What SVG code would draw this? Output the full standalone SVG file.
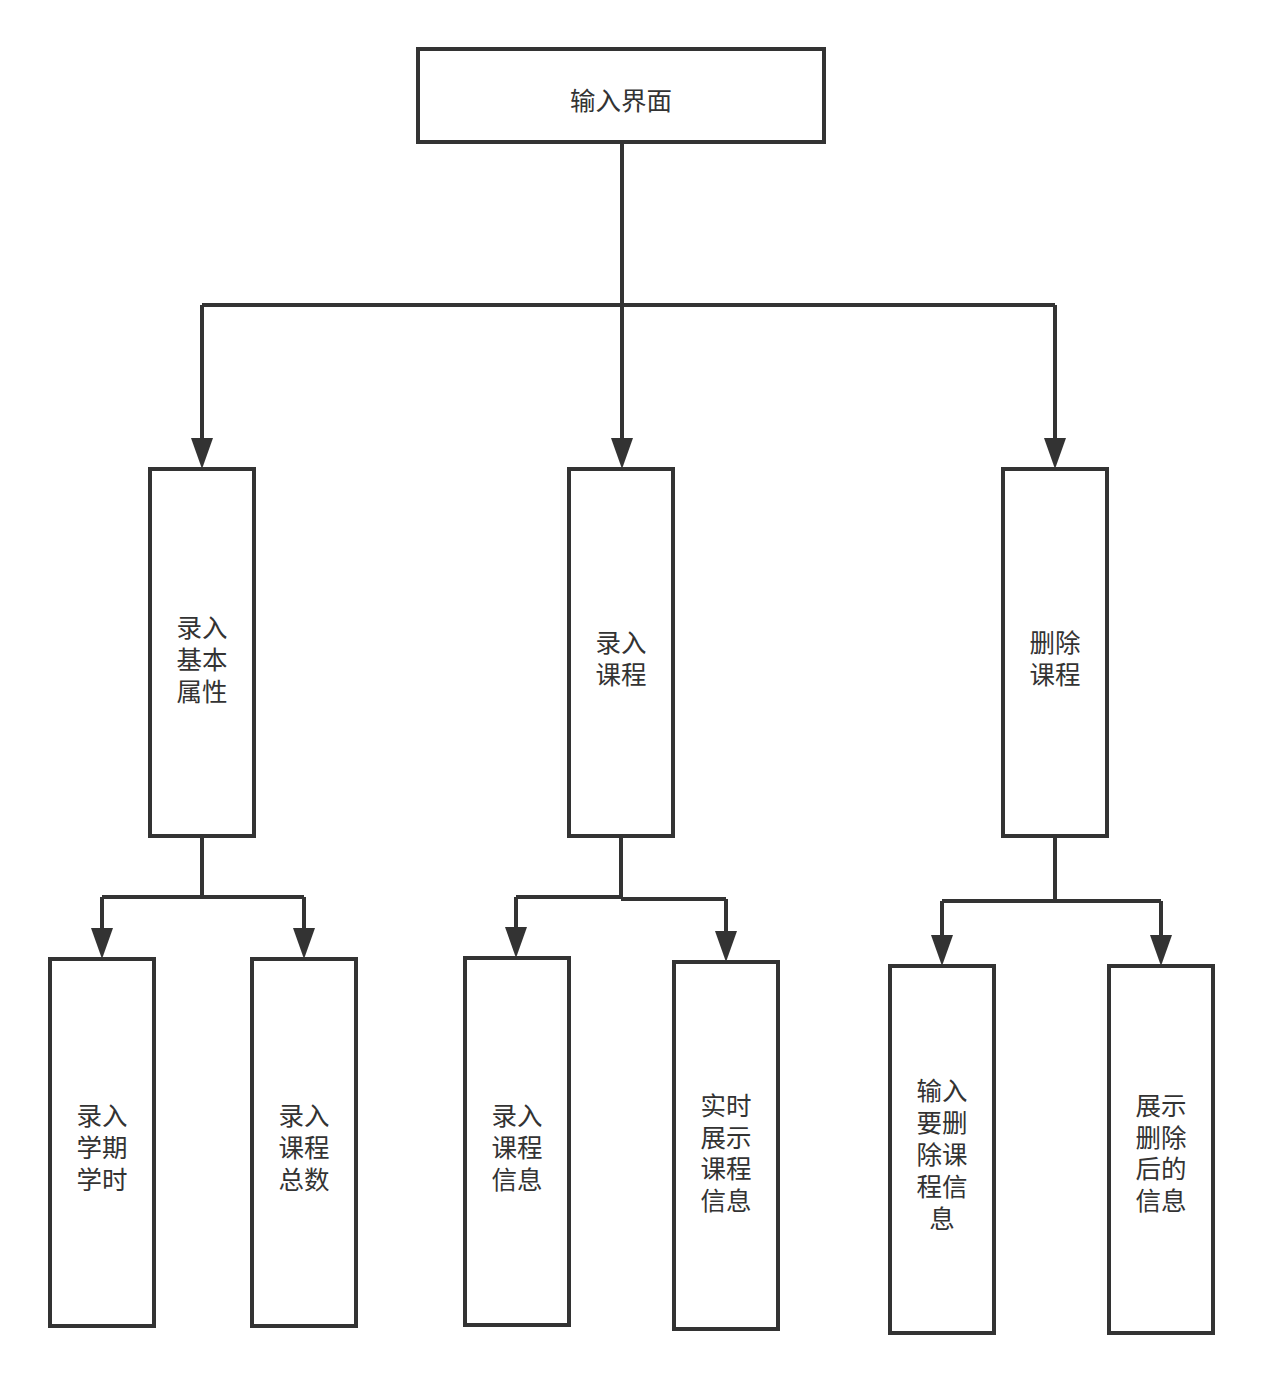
<svg xmlns="http://www.w3.org/2000/svg" width="1263" height="1384" viewBox="0 0 1263 1384">
<style>
.box{fill:#fff;stroke:#333;stroke-width:4}
.t{font-family:"Noto Sans CJK SC","Noto Sans",sans-serif;font-size:25.5px;fill:#333;text-anchor:middle;dominant-baseline:central}
.c{fill:none;stroke:#333;stroke-width:4}
.ah{fill:#333}
</style>
<rect width="1263" height="1384" fill="#fff"/>
<g id="connectors">
<path class="c" d="M622,142 V305"/>
<path class="c" d="M202,305 H1055"/>
<path class="c" d="M202,305 V438"/>
<path class="ah" d="M191,438 L213,438 L202,469 Z"/>
<path class="c" d="M622,305 V438"/>
<path class="ah" d="M611,438 L633,438 L622,469 Z"/>
<path class="c" d="M1055,305 V438"/>
<path class="ah" d="M1044,438 L1066,438 L1055,469 Z"/>
<path class="c" d="M202,836 V897 M102,897 H304 M102,897 V928 M304,897 V928"/>
<path class="ah" d="M91,928 L113,928 L102,959 Z"/>
<path class="ah" d="M293,928 L315,928 L304,959 Z"/>
<path class="c" d="M621,836 V899 M516,897 H621 M621,899 H726 M516,897 V927 M726,899 V931"/>
<path class="ah" d="M505,927 L527,927 L516,958 Z"/>
<path class="ah" d="M715,931 L737,931 L726,962 Z"/>
<path class="c" d="M1055,836 V901 M942,901 H1161 M942,901 V935 M1161,901 V935"/>
<path class="ah" d="M931,935 L953,935 L942,966 Z"/>
<path class="ah" d="M1150,935 L1172,935 L1161,966 Z"/>
</g>
<g id="n0"><rect class="box" x="418" y="49" width="406" height="93"/><text class="t" x="621" y="98">输入界面</text></g>
<g id="n1"><rect class="box" x="150" y="469" width="104" height="367"/><text class="t" x="202" y="625">录入</text><text class="t" x="202" y="657">基本</text><text class="t" x="202" y="689">属性</text></g>
<g id="n2"><rect class="box" x="569" y="469" width="104" height="367"/><text class="t" x="621" y="640">录入</text><text class="t" x="621" y="672">课程</text></g>
<g id="n3"><rect class="box" x="1003" y="469" width="104" height="367"/><text class="t" x="1055" y="640">删除</text><text class="t" x="1055" y="672">课程</text></g>
<g id="n4"><rect class="box" x="50" y="959" width="104" height="367"/><text class="t" x="102" y="1113">录入</text><text class="t" x="102" y="1145">学期</text><text class="t" x="102" y="1177">学时</text></g>
<g id="n5"><rect class="box" x="252" y="959" width="104" height="367"/><text class="t" x="304" y="1113">录入</text><text class="t" x="304" y="1145">课程</text><text class="t" x="304" y="1177">总数</text></g>
<g id="n6"><rect class="box" x="465" y="958" width="104" height="367"/><text class="t" x="517" y="1113">录入</text><text class="t" x="517" y="1145">课程</text><text class="t" x="517" y="1177">信息</text></g>
<g id="n7"><rect class="box" x="674" y="962" width="104" height="367"/><text class="t" x="726" y="1103">实时</text><text class="t" x="726" y="1135">展示</text><text class="t" x="726" y="1166">课程</text><text class="t" x="726" y="1198">信息</text></g>
<g id="n8"><rect class="box" x="890" y="966" width="104" height="367"/><text class="t" x="942" y="1088">输入</text><text class="t" x="942" y="1120">要删</text><text class="t" x="942" y="1152">除课</text><text class="t" x="942" y="1184">程信</text><text class="t" x="942" y="1216">息</text></g>
<g id="n9"><rect class="box" x="1109" y="966" width="104" height="367"/><text class="t" x="1161" y="1103">展示</text><text class="t" x="1161" y="1135">删除</text><text class="t" x="1161" y="1166">后的</text><text class="t" x="1161" y="1198">信息</text></g>
</svg>
